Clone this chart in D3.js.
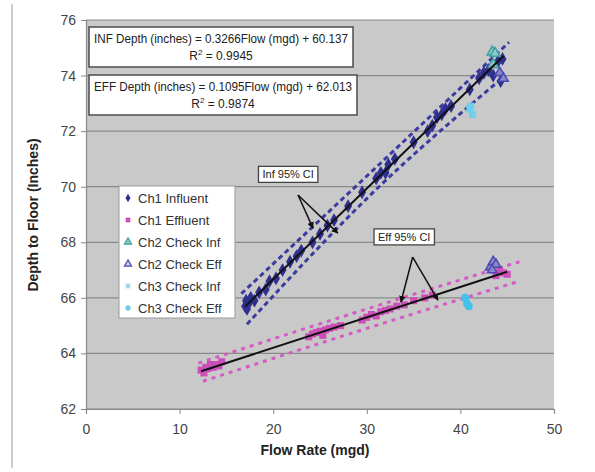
<!DOCTYPE html>
<html>
<head>
<meta charset="utf-8">
<script src="https://cdn.jsdelivr.net/npm/d3@7"></script>
<style>
  body { margin: 0; background: #fff; }
  svg text { font-family: "Liberation Sans", Arial, sans-serif; }
</style>
</head>
<body>
<div id="chart"></div>
<script>
// tick labels
const xTicks = [0, 10, 20, 30, 40, 50];
const yTicks = [62, 64, 66, 68, 70, 72, 74, 76];

// [flow (mgd), depth (in)]
const ch1Influent = [
  [17.0, 65.7], [17.1, 65.9], [17.2, 65.6], [17.4, 65.8], [17.6, 66.0], [18.0, 65.9],
  [18.5, 66.2], [19.2, 66.3], [19.6, 66.6], [20.3, 66.7], [21.0, 67.0], [21.8, 67.3],
  [22.5, 67.5], [23.0, 67.7], [24.2, 68.0], [25.0, 68.3], [25.8, 68.6], [26.5, 68.8],
  [28.0, 69.3], [29.5, 69.8], [31.0, 70.3], [31.5, 70.5], [32.0, 70.5], [32.3, 70.8],
  [33.0, 71.0], [35.0, 71.6], [36.5, 72.0], [37.0, 72.2], [37.5, 72.5], [38.0, 72.6],
  [38.4, 72.8], [39.0, 72.9], [41.0, 73.5], [42.0, 73.9], [42.5, 74.1], [43.0, 74.2],
  [43.5, 74.0], [44.0, 74.5], [44.3, 73.8], [44.5, 74.6]
];
const ch1Effluent = [
  [12.3, 63.4], [12.6, 63.3], [12.8, 63.5], [13.0, 63.45], [13.3, 63.6], [13.6, 63.5],
  [13.9, 63.6], [14.2, 63.55], [14.5, 63.7], [23.8, 64.6], [24.2, 64.7], [24.6, 64.75],
  [25.0, 64.8], [25.3, 64.65], [25.6, 64.85], [26.0, 64.9], [26.5, 64.95], [27.2, 65.0],
  [29.5, 65.2], [30.0, 65.3], [30.5, 65.4], [31.0, 65.35], [31.5, 65.5], [32.0, 65.55],
  [32.5, 65.6], [33.2, 65.7], [34.0, 65.75], [35.0, 65.9], [36.2, 66.0], [37.0, 66.1],
  [43.8, 66.8], [44.2, 67.0], [44.6, 66.9], [45.0, 66.85]
];
const ch2CheckInf = [[43.4, 74.85], [43.7, 74.8], [43.5, 74.4]];
const ch2CheckEff = [[43.2, 67.1], [43.5, 67.3], [43.8, 67.2], [43.4, 67.0], [44.2, 74.1], [44.6, 73.9]];
const ch3CheckInf = [[41.0, 72.8], [41.3, 72.6], [41.1, 72.9]];
const ch3CheckEff = [[40.5, 66.0], [40.7, 65.8], [40.9, 65.7]];

// trendlines: [slope, intercept], [xmin, xmax]
const infCoef = [0.3266, 60.137], infRange = [17.0, 44.6];
const effCoef = [0.1095, 62.013], effRange = [12.3, 45.0];

// 95% confidence bands
const infUpper = [[16.6, 66.15], [31.0, 70.7], [45.2, 75.2]];
const infLower = [[17.2, 65.05], [31.0, 69.9], [44.8, 74.0]];
const effUpper = [[12.0, 63.65], [30.0, 65.6], [46.3, 67.3]];
const effLower = [[12.5, 63.0], [30.0, 64.9], [46.3, 66.6]];

// annotation callouts
const infLabel = { text: "Inf 95% CI", x: 21.6, y: 70.3, from: [22.65, 69.7], to: [[24.25, 68.51], [26.9, 68.33]] };
const effLabel = { text: "Eff 95% CI", x: 34.0, y: 68.05, from: [34.9, 67.47], to: [[33.65, 65.85], [37.6, 65.92]] };

const width = 595, height = 472;
const svg = d3.select("#chart").append("svg").attr("width", width).attr("height", height);

const x = d3.scaleLinear().domain([0, 50]).range([86, 554]);
const y = d3.scaleLinear().domain([62, 76]).range([409, 20]);

// faint frame line on the left
svg.append("line").attr("x1", 12).attr("x2", 12).attr("y1", 4).attr("y2", 468)
  .attr("stroke", "#bbb").attr("stroke-width", 1.5);

// plot background
svg.append("rect").attr("x", x(0)).attr("y", y(76)).attr("width", x(50) - x(0)).attr("height", y(62) - y(76))
  .attr("fill", "#c9c9c9");

// gridlines
svg.append("g").selectAll("line").data(yTicks).join("line")
  .attr("x1", x(0)).attr("x2", x(50)).attr("y1", d => y(d)).attr("y2", d => y(d))
  .attr("stroke", "#8a8a8a").attr("stroke-width", 1.2);

// axes
const xAxis = svg.append("g").attr("transform", `translate(0,${y(62)})`)
  .call(d3.axisBottom(x).tickValues(xTicks).tickSize(5).tickPadding(10));
const yAxis = svg.append("g").attr("transform", `translate(${x(0)},0)`)
  .call(d3.axisLeft(y).tickValues(yTicks).tickSize(5).tickPadding(5));
[xAxis, yAxis].forEach(g => {
  g.select(".domain").attr("stroke", "#888").attr("stroke-width", 1.2);
  g.selectAll(".tick line").attr("stroke", "#888");
  g.selectAll(".tick text").attr("fill", "#444").attr("font-size", 14)
    .attr("font-family", "Liberation Sans, Arial, sans-serif");
});

// axis titles
svg.append("text").attr("x", 315).attr("y", 455).attr("text-anchor", "middle")
  .attr("font-size", 14).attr("font-weight", "bold").attr("fill", "#222").text("Flow Rate (mgd)");
svg.append("text").attr("transform", "translate(38,215) rotate(-90)").attr("text-anchor", "middle")
  .attr("font-size", 14).attr("font-weight", "bold").attr("fill", "#222").text("Depth to Floor (Inches)");

const line = d3.line().x(d => x(d[0])).y(d => y(d[1])).curve(d3.curveMonotoneX);

// confidence bands
[infUpper, infLower].forEach(b => svg.append("path").datum(b).attr("d", line)
  .attr("fill", "none").attr("stroke", "#3b3ba0").attr("stroke-width", 3).attr("stroke-dasharray", "5,3.5"));
[effUpper, effLower].forEach(b => svg.append("path").datum(b).attr("d", line)
  .attr("fill", "none").attr("stroke", "#d45cc4").attr("stroke-width", 3).attr("stroke-dasharray", "4,5"));

// points
const sym = (type, size) => d3.symbol().type(type).size(size);
function drawPoints(data, type, size, fill, stroke) {
  svg.append("g").selectAll("path").data(data).join("path")
    .attr("transform", d => `translate(${x(d[0])},${y(d[1])})`)
    .attr("d", sym(type, size))
    .attr("fill", fill).attr("stroke", stroke || "none").attr("stroke-width", 1.5);
}
drawPoints(ch1Effluent, d3.symbolSquare, 50, "#cc4fb8");
drawPoints(ch1Influent, d3.symbolDiamond, 55, "#2e2f8e");
drawPoints(ch2CheckInf, d3.symbolTriangle, 45, "#8fcaca", "#3aa0a0");
drawPoints(ch2CheckEff, d3.symbolTriangle, 40, "#8888cc", "#4a4ab0");
drawPoints(ch3CheckInf, d3.symbolSquare, 50, "#6fd0ee");
drawPoints(ch3CheckEff, d3.symbolCircle, 50, "#45c2ec");

// trendlines
[[infCoef, infRange], [effCoef, effRange]].forEach(([c, r]) => {
  svg.append("line")
    .attr("x1", x(r[0])).attr("y1", y(c[0] * r[0] + c[1]))
    .attr("x2", x(r[1])).attr("y2", y(c[0] * r[1] + c[1]))
    .attr("stroke", "#111").attr("stroke-width", 2);
});

// arrowhead
svg.append("defs").append("marker").attr("id", "arr").attr("viewBox", "0 0 10 10")
  .attr("refX", 9).attr("refY", 5).attr("markerWidth", 4.5).attr("markerHeight", 4.5).attr("orient", "auto")
  .append("path").attr("d", "M0,0L10,5L0,10z").attr("fill", "#111");

// callouts
[infLabel, effLabel].forEach(a => {
  a.to.forEach(t => svg.append("line")
    .attr("x1", x(a.from[0])).attr("y1", y(a.from[1])).attr("x2", x(t[0])).attr("y2", y(t[1]))
    .attr("stroke", "#111").attr("stroke-width", 1.5).attr("marker-end", "url(#arr)"));
  const t = svg.append("text").attr("x", x(a.x)).attr("y", y(a.y)).attr("text-anchor", "middle")
    .attr("font-size", 11).attr("fill", "#222").text(a.text);
  const bb = t.node().getBBox();
  svg.insert("rect", () => t.node()).attr("x", bb.x - 4).attr("y", bb.y - 2)
    .attr("width", bb.width + 8).attr("height", bb.height + 4)
    .attr("fill", "#fff").attr("stroke", "#444").attr("stroke-width", 1.3);
});

// equation boxes
const eqBoxes = [
  { top: 27, h: 40, w: 264, line1: "INF Depth (inches) = 0.3266Flow (mgd) + 60.137", r2: "0.9945" },
  { top: 75, h: 40, w: 268, line1: "EFF Depth (inches) = 0.1095Flow (mgd) + 62.013", r2: "0.9874" }
];
eqBoxes.forEach(b => {
  const left = 89;
  svg.append("rect").attr("x", left).attr("y", b.top).attr("width", b.w).attr("height", b.h)
    .attr("fill", "#fff").attr("stroke", "#555").attr("stroke-width", 1.6);
  svg.append("text").attr("x", left + b.w / 2).attr("y", b.top + 16).attr("text-anchor", "middle")
    .attr("font-size", 12).attr("fill", "#222")
    .attr("textLength", b.w - 10).attr("lengthAdjust", "spacingAndGlyphs").text(b.line1);
  const r = svg.append("text").attr("x", left + b.w / 2).attr("y", b.top + 33).attr("text-anchor", "middle")
    .attr("font-size", 12).attr("fill", "#222");
  r.append("tspan").text("R");
  r.append("tspan").attr("font-size", 8).attr("dy", -5).text("2");
  r.append("tspan").attr("dy", 5).text(" = " + b.r2);
});

// legend
const legendItems = [
  { name: "Ch1 Influent", type: d3.symbolDiamond, fill: "#2e2f8e" },
  { name: "Ch1 Effluent", type: d3.symbolSquare, fill: "#cc4fb8" },
  { name: "Ch2 Check Inf", type: d3.symbolTriangle, fill: "#8fcaca", stroke: "#3aa0a0" },
  { name: "Ch2 Check Eff", type: d3.symbolTriangle, fill: "#c8c8ec", stroke: "#4a4ab0" },
  { name: "Ch3 Check Inf", type: d3.symbolSquare, fill: "#a8dcec" },
  { name: "Ch3 Check Eff", type: d3.symbolCircle, fill: "#6fcbec" }
];
const lg = svg.append("g").attr("transform", "translate(119,186)");
lg.append("rect").attr("width", 116).attr("height", 132).attr("fill", "#fff")
  .attr("stroke", "#999").attr("stroke-width", 1);
legendItems.forEach((d, i) => {
  const row = lg.append("g").attr("transform", `translate(0,${12 + i * 22})`);
  row.append("path").attr("transform", "translate(9,0)").attr("d", sym(d.type, 22)())
    .attr("fill", d.fill).attr("stroke", d.stroke || "none").attr("stroke-width", 1.2);
  row.append("text").attr("x", 19).attr("y", 5).attr("font-size", 13).attr("fill", "#333").text(d.name);
});
</script>
</body>
</html>
